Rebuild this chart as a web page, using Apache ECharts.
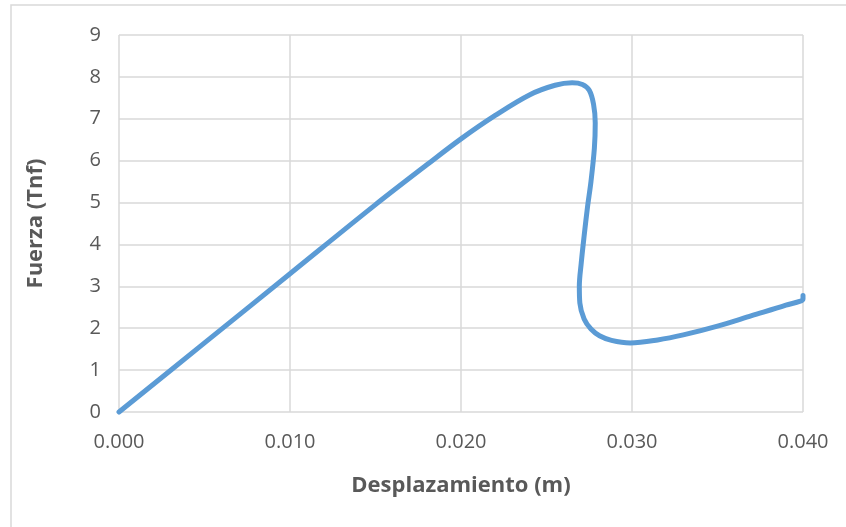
<!DOCTYPE html>
<html>
<head>
<meta charset="utf-8">
<script src="https://cdn.jsdelivr.net/npm/echarts@6/dist/echarts.min.js"></script>
<style>
html,body{margin:0;padding:0;background:#fff;}
#c{width:846px;height:527px;}
</style>
</head>
<body>
<div id="c"></div>
<script>
var desplazamiento = [0, 0.005, 0.010, 0.015, 0.018, 0.020, 0.022, 0.024, 0.0255, 0.0265, 0.0271, 0.0275, 0.02775, 0.02785, 0.0278, 0.0276, 0.0274, 0.0272, 0.02703, 0.02692, 0.02695, 0.0272, 0.0276, 0.0281, 0.0288, 0.0299, 0.0315, 0.0330, 0.0350, 0.0370, 0.0390, 0.0400, 0.0400];
var fuerza =         [0, 1.65, 3.30, 4.95, 5.90, 6.52, 7.08, 7.57, 7.80, 7.86, 7.82, 7.68, 7.35, 6.90, 6.30, 5.50, 4.90, 4.20, 3.55, 3.00, 2.60, 2.22, 1.98, 1.82, 1.71, 1.65, 1.72, 1.84, 2.05, 2.30, 2.55, 2.70, 2.78];
var xTicks = [0, 0.01, 0.02, 0.03, 0.04];
var yTicks = [0, 1, 2, 3, 4, 5, 6, 7, 8, 9];
var xTitle = 'Desplazamiento (m)';
var yTitle = 'Fuerza (Tnf)';

var pts = desplazamiento.map(function (x, i) { return [x, fuerza[i]]; });
var chart = echarts.init(document.getElementById('c'), null, {renderer: 'canvas'});
var font = "'Open Sans', sans-serif";
chart.setOption({
  animation: false,
  graphic: [{
    type: 'rect', shape: {x: 11, y: 5, width: 900, height: 600},
    style: {fill: 'none', stroke: '#D9D9D9', lineWidth: 1.5}, silent: true, z: -10
  }],
  grid: {left: 119, right: 43, top: 35, bottom: 115},
  xAxis: {
    type: 'value', min: xTicks[0], max: xTicks[xTicks.length - 1], interval: 0.01,
    name: xTitle, nameLocation: 'middle', nameGap: 63,
    nameTextStyle: {fontFamily: font, fontSize: 22, fontWeight: 'bold', color: '#595959'},
    axisLine: {show: false}, axisTick: {show: false},
    axisLabel: {fontFamily: font, fontSize: 20, color: '#595959', margin: 20,
      formatter: function (v) { return v.toFixed(3); }},
    splitLine: {show: true, lineStyle: {color: '#D9D9D9', width: 1.5}}
  },
  yAxis: {
    type: 'value', min: yTicks[0], max: yTicks[yTicks.length - 1], interval: 1,
    name: yTitle, nameLocation: 'middle', nameGap: 72,
    nameTextStyle: {fontFamily: font, fontSize: 22, fontWeight: 'bold', color: '#595959'},
    axisLine: {show: false}, axisTick: {show: false},
    axisLabel: {fontFamily: font, fontSize: 20, color: '#595959', margin: 18},
    splitLine: {show: true, lineStyle: {color: '#D9D9D9', width: 1.5}}
  },
  series: [{
    type: 'line', data: pts, smooth: 0.35, showSymbol: false, symbol: 'none',
    lineStyle: {color: '#5B9BD5', width: 5, cap: 'round', join: 'round'},
    clip: false
  }]
});
</script>
</body>
</html>
